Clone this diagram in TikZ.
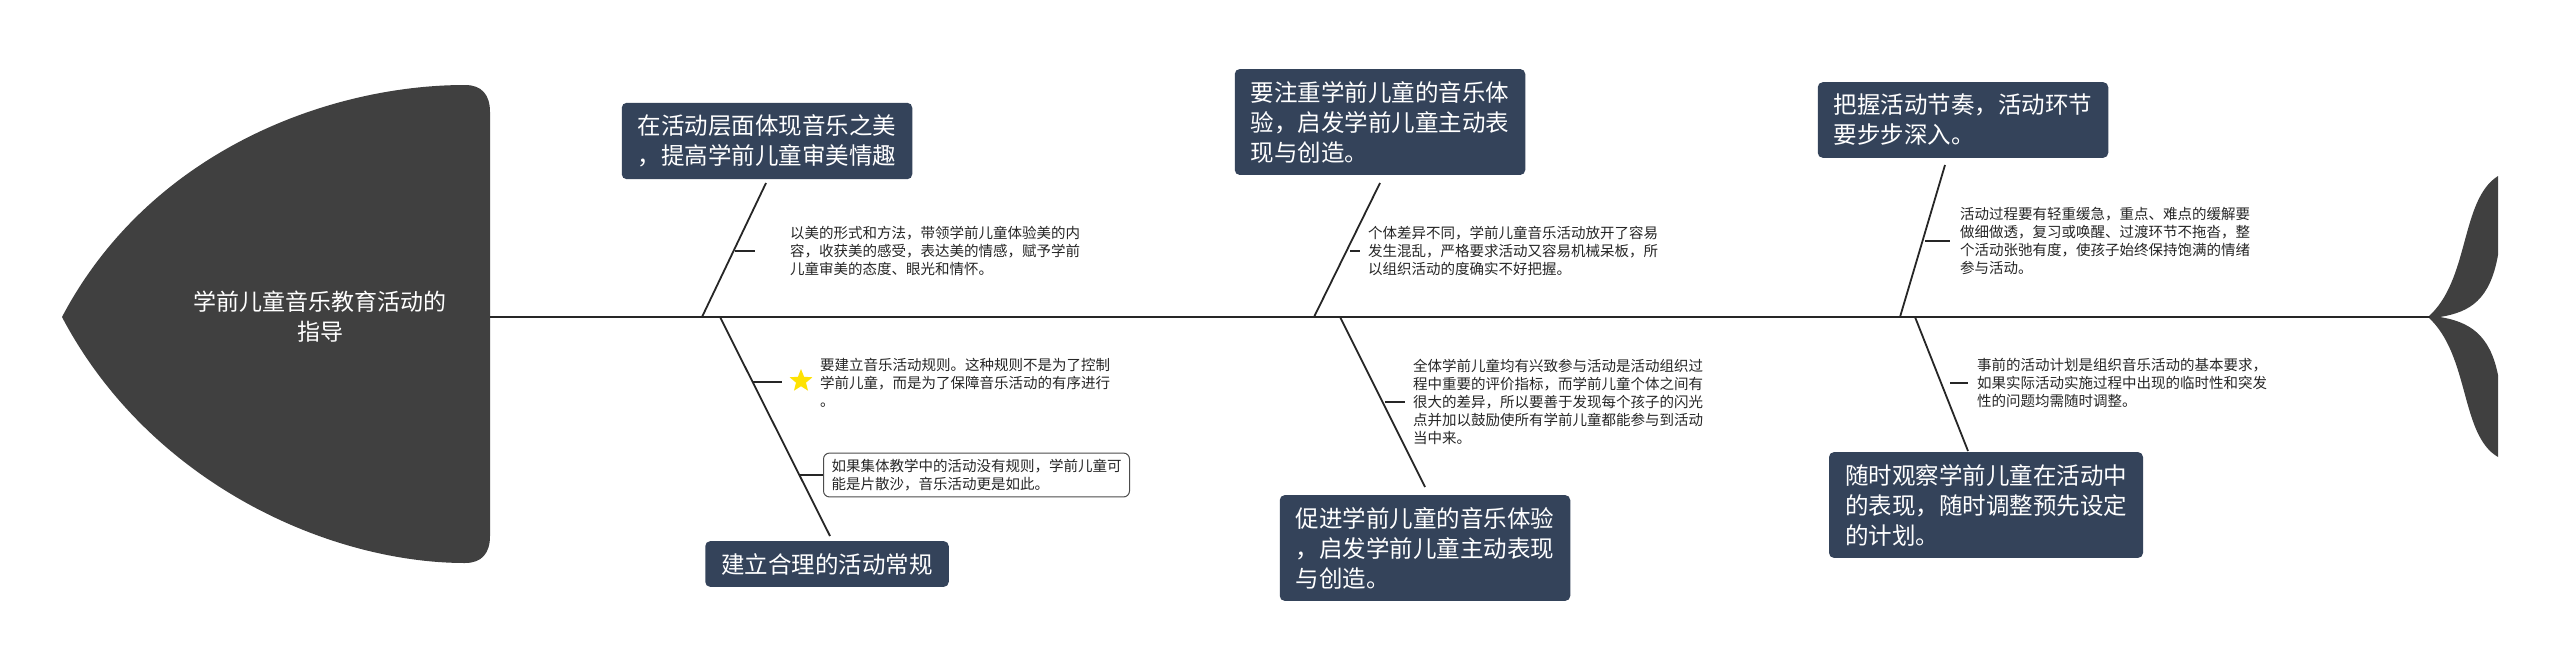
\documentclass[tikz,border=0pt]{standalone}
\usepackage{fontspec}
\setmainfont{Noto Sans CJK SC}
\usetikzlibrary{shapes.geometric}
\definecolor{navy}{HTML}{34435A}
\definecolor{fishgray}{HTML}{404040}
\tikzset{
 topic/.style={fill=navy,text=white,rounded corners=5pt,align=left,inner xsep=16pt,inner ysep=12pt,font=\fontsize{23.5}{30}\selectfont},
 note/.style={align=left,anchor=west,inner sep=0pt,font=\fontsize{14.5}{18}\selectfont,text=black!85},
 bone/.style={line width=2.2pt,draw=black!85},
 tick/.style={line width=1.3pt,draw=black!85},
}
\begin{document}
\begin{tikzpicture}[x=1pt,y=-1pt]
\useasboundingbox (0,0) rectangle (2560,672);
\fill[white] (0,0) rectangle (2560,672);
% head
\fill[fishgray] (62,317) .. controls (150,150) and (330,85) .. (465,85)
  .. controls (482,85) and (490,95) .. (490,112) -- (490,536)
  .. controls (490,553) and (482,563) .. (465,563)
  .. controls (330,563) and (150,484) .. (62,317) -- cycle;
\node[text=white,align=center,font=\fontsize{23}{30}\selectfont] (title) at (320,317) {学前儿童音乐教育活动的\\指导};
% tail
\fill[fishgray] (2428,317) .. controls (2470,280) and (2460,200) .. (2498,176) -- (2498,255)
  .. controls (2490,300) and (2470,312) .. (2440,317)
  .. controls (2470,322) and (2490,335) .. (2498,375) -- (2498,457)
  .. controls (2460,435) and (2470,355) .. (2428,317) -- cycle;
\coordinate (spA) at (490,317);
\coordinate (spB) at (2430,317);
\draw[bone] (spA) -- (spB);
% topics
\node[topic] (t1) at (767,141) {在活动层面体现音乐之美\\，提高学前儿童审美情趣};
\node[topic] (t2) at (1380,122) {要注重学前儿童的音乐体\\验，启发学前儿童主动表\\现与创造。};
\node[topic] (t3) at (1963,120) {把握活动节奏，活动环节\\要步步深入。};
\node[topic] (t4) at (827,564) {建立合理的活动常规};
\node[topic] (t5) at (1425,548) {促进学前儿童的音乐体验\\，启发学前儿童主动表现\\与创造。};
\node[topic] (t6) at (1986,505) {随时观察学前儿童在活动中\\的表现，随时调整预先设定\\的计划。};
% bone roots
\coordinate (r1) at (702,317); \coordinate (r2) at (1314,317); \coordinate (r3) at (1900,317);
\coordinate (r4) at (720,317); \coordinate (r5) at (1340,317); \coordinate (r6) at (1915,317);
\coordinate (e1) at (766,183); \coordinate (e2) at (1380,183); \coordinate (e3) at (1945,165);
\coordinate (e4) at (830,536); \coordinate (e5) at (1425,487); \coordinate (e6) at (1968,451);
\foreach \i in {1,...,6} \draw[bone,line width=1.8pt] (r\i) -- (e\i);
% notes
\node[note] (n1) at (790,251) {以美的形式和方法，带领学前儿童体验美的内\\容，收获美的感受，表达美的情感，赋予学前\\儿童审美的态度、眼光和情怀。};
\draw[tick] (735,251) -- (755,251);
\node[star,star points=5,star point ratio=2.3,fill=yellow!85!orange,minimum size=24pt,inner sep=0pt] (star) at (801,381) {};
\draw[tick] (753,382) -- (782,382);
\node[note] (n2) at (820,383) {要建立音乐活动规则。这种规则不是为了控制\\学前儿童，而是为了保障音乐活动的有序进行\\。};
\node[note,draw=black!70,rounded corners=6pt,inner xsep=8pt,inner ysep=6pt,line width=1pt] (n3) at (823,475) {如果集体教学中的活动没有规则，学前儿童可\\能是片散沙，音乐活动更是如此。};
\draw[tick] (800,475) -- (n3.west);
\node[note] (n4) at (1368,251) {个体差异不同，学前儿童音乐活动放开了容易\\发生混乱，严格要求活动又容易机械呆板，所\\以组织活动的度确实不好把握。};
\draw[tick] (1350,251) -- (1360,251);
\node[note] (n5) at (1413,402) {全体学前儿童均有兴致参与活动是活动组织过\\程中重要的评价指标，而学前儿童个体之间有\\很大的差异，所以要善于发现每个孩子的闪光\\点并加以鼓励使所有学前儿童都能参与到活动\\当中来。};
\draw[tick] (1385,402) -- (1405,402);
\node[note] (n6) at (1960,241) {活动过程要有轻重缓急，重点、难点的缓解要\\做细做透，复习或唤醒、过渡环节不拖沓，整\\个活动张弛有度，使孩子始终保持饱满的情绪\\参与活动。};
\draw[tick] (1925,241) -- (1950,241);
\node[note] (n7) at (1977,383) {事前的活动计划是组织音乐活动的基本要求，\\如果实际活动实施过程中出现的临时性和突发\\性的问题均需随时调整。};
\draw[tick] (1950,383) -- (1968,383);
\end{tikzpicture}
\end{document}
